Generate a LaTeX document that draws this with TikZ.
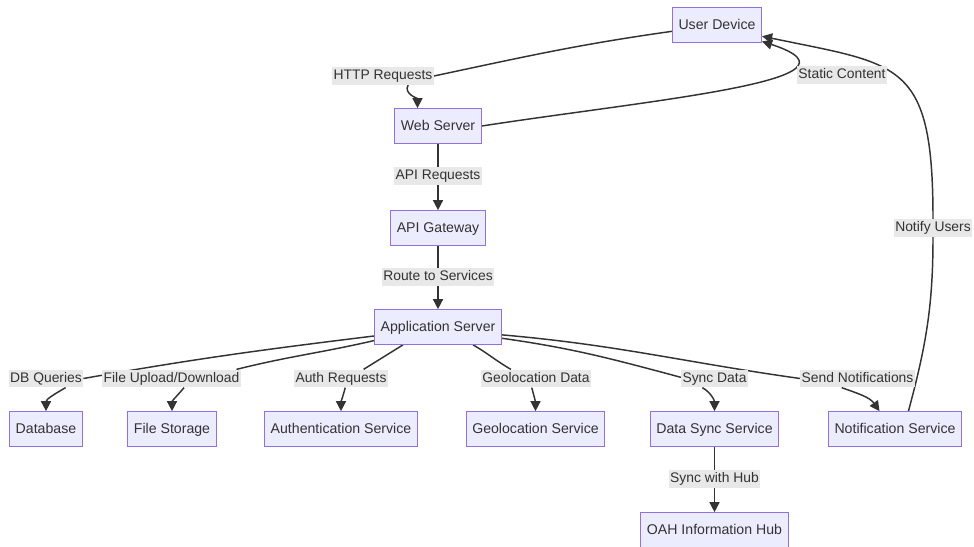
\documentclass[tikz,border=0pt]{standalone}
\usepackage{fontspec}
\setmainfont{Liberation Sans}
\usetikzlibrary{arrows.meta}
\definecolor{boxfill}{HTML}{ECECFF}
\definecolor{boxline}{HTML}{9370DB}
\definecolor{edgeline}{HTML}{333333}
\definecolor{lblfill}{HTML}{E8E8E8}
\pgfdeclarelayer{edges}
\pgfsetlayers{edges,main}

\begin{document}
\begin{tikzpicture}[x=0.75pt,y=0.75pt,
  box/.style={draw=boxline,fill=boxfill,line width=0.75pt,inner xsep=4.6pt,
    minimum height=26pt,text height=8.3pt,text depth=2pt,text=edgeline,
    font=\fontsize{10.6}{12}\selectfont},
  lbl/.style={fill=lblfill,inner xsep=1pt,inner ysep=1.5pt,text height=8pt,
    text depth=2.3pt,text=edgeline,font=\fontsize{10.4}{12}\selectfont},
  flow/.style={draw=edgeline,line width=1.1pt,-{Triangle[length=7.5pt,width=7.5pt]}}]
\useasboundingbox (0,0) rectangle (974,-546);

\node[box] (ud) at (717,-25) {User Device};
\node[box] (web) at (438,-126) {Web Server};
\node[box] (api) at (438,-228) {API Gateway};
\node[box] (app) at (438,-327) {Application Server};
\node[box] (db) at (46,-429) {Database};
\node[box] (fs) at (172,-429) {File Storage};
\node[box] (auth) at (341,-429) {Authentication Service};
\node[box] (geo) at (535.5,-429) {Geolocation Service};
\node[box] (ds) at (714.5,-429) {Data Sync Service};
\node[box] (ns) at (895,-429) {Notification Service};
\node[box] (hub) at (714.5,-530) {OAH Information Hub};

\node[lbl] (http) at (383,-76) {HTTP Requests};
\node[lbl] (sc) at (842,-75) {Static Content};
\node[lbl] (apireq) at (438,-176) {API Requests};
\node[lbl] (route) at (438,-277) {Route to Services};
\node[lbl] (nu) at (933,-228) {Notify Users};
\node[lbl] (dbq) at (46,-378.5) {DB Queries};
\node[lbl] (fud) at (171.5,-378.5) {File Upload/Download};
\node[lbl] (areq) at (341,-378.5) {Auth Requests};
\node[lbl] (gd) at (536,-378.5) {Geolocation Data};
\node[lbl] (sd) at (714.5,-378.5) {Sync Data};
\node[lbl] (sn) at (857.5,-378.5) {Send Notifications};
\node[lbl] (swh) at (714.5,-479) {Sync with Hub};

\begin{pgfonlayer}{edges}
\draw[flow] (ud.188) to[out=188,in=12] (http.east) (http.-20) to[out=-120,in=90] (web.139);
\draw[flow] (web.east) .. controls (650,-100) and (880,-80) .. (ud.-20);
\draw[flow] (web) -- (api);
\draw[flow] (api) -- (app);
\draw[flow] (ns.53) to[out=75,in=-90] (nu.south) (nu.north) .. controls (933,-60) and (900,-65) .. (ud.-14);
\draw[flow] (app.188) to[out=187,in=10] (dbq.east) (dbq.-25) to[out=-150,in=90] (db.north);
\draw[flow] (app.192) to[out=193,in=14] (fud.8) (fud.-36) to[out=-130,in=90] (fs.north);
\draw[flow] (app.207) to[out=212,in=32] (areq.22) (areq.-65) to[out=-105,in=90] (auth.north);
\draw[flow] (app.-27) to[out=-30,in=150] (gd.160) (gd.-115) to[out=-75,in=90] (geo.north);
\draw[flow] (app.-10) to[out=-8,in=165] (sd.178) (sd.-143) to[out=-30,in=90] (ds.north);
\draw[flow] (app.-7) to[out=-5,in=172] (sn.west) (sn.-150) to[out=-20,in=125] (ns.131);
\draw[flow] (ds) -- (hub);
\end{pgfonlayer}
\end{tikzpicture}
\end{document}
